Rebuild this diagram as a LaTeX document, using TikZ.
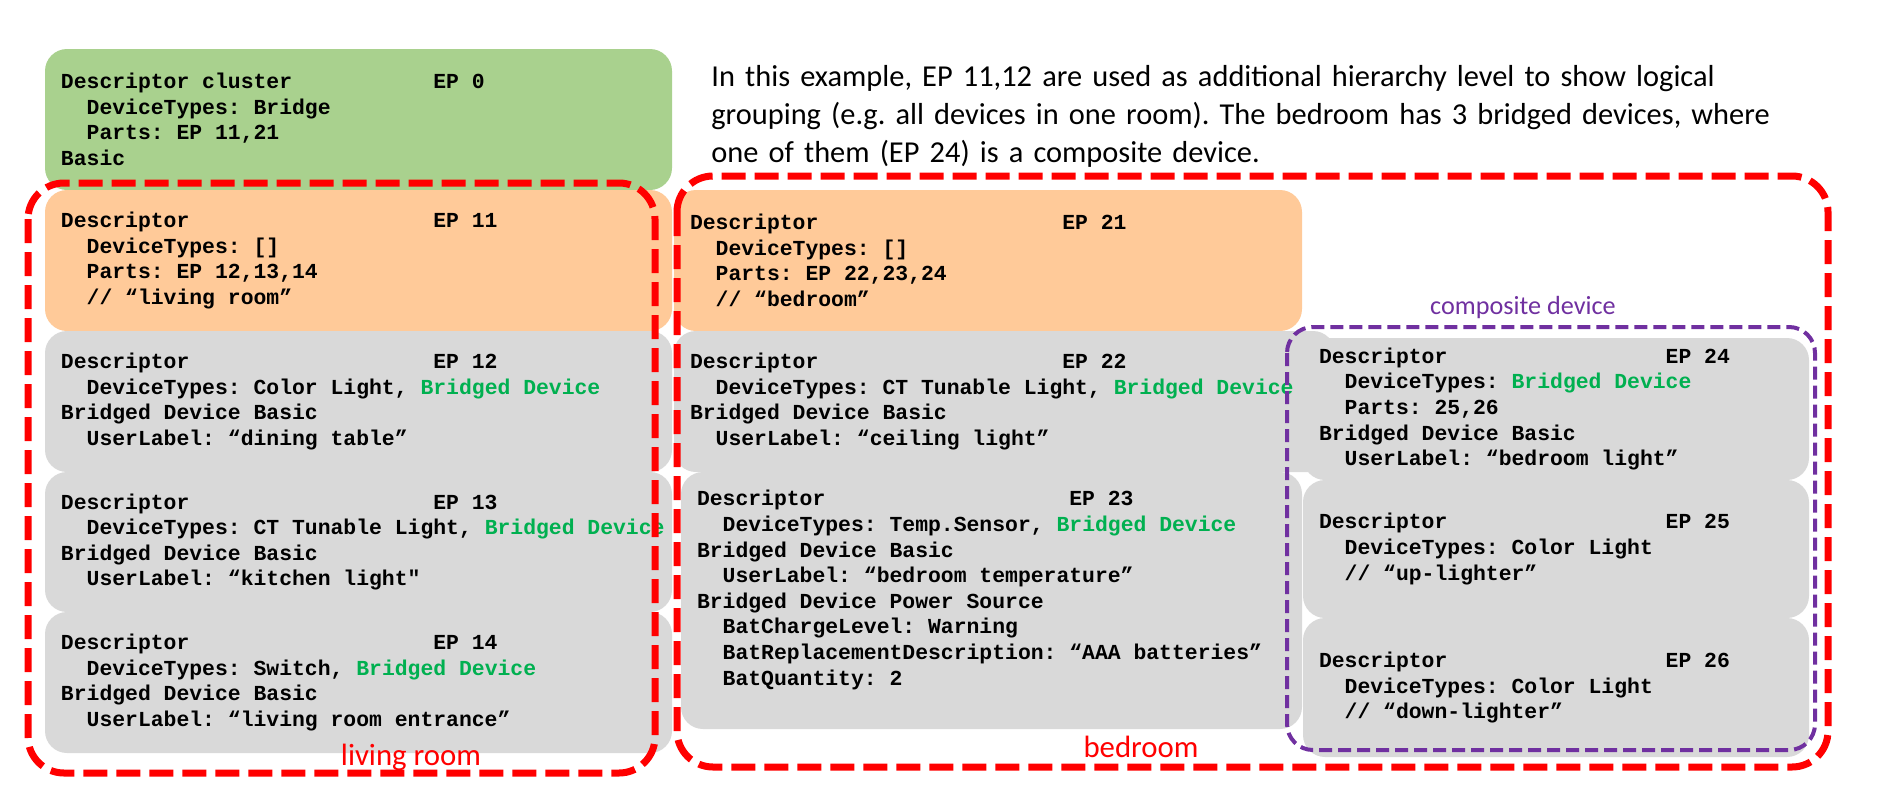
\documentclass[tikz,border=0pt]{standalone}
\usepackage{fontspec}
\setmainfont{Carlito}
\setmonofont{Liberation Mono}
\usepackage{xcolor}
\usepackage{tikz}
\usetikzlibrary{positioning}

\definecolor{epgreen}{HTML}{A9D18E}
\definecolor{eporange}{HTML}{FFCA99}
\definecolor{epgray}{HTML}{D9D9D9}
\definecolor{brgreen}{HTML}{00B050}
\definecolor{roomred}{HTML}{FF0000}
\definecolor{comppurple}{HTML}{7030A0}

\newcommand{\epline}[3][17.4em]{\makebox[#1][l]{#2}#3}
\newcommand{\epind}{\hspace*{1.2em}}
\newcommand{\brdev}{\textcolor{brgreen}{Bridged Device}}

\begin{document}
\begin{tikzpicture}[x=0.5pt,y=-0.5pt,font=\fontsize{15.2pt}{19pt}\selectfont]
    \tikzset{
      epbox/.style={anchor=north west, rounded corners=11pt, align=left, text width=#1,
        inner xsep=8pt, inner ysep=0pt, outer sep=0pt,
        font=\fontsize{10.7pt}{12.8pt}\selectfont\ttfamily\bfseries\frenchspacing,
        execute at begin node={\spaceskip=0.6em\relax}},
      room/.style={draw=roomred, line width=3.5pt, dash pattern=on 12pt off 4.5pt, rounded corners=18pt},
      composite/.style={draw=comppurple, line width=2pt, dash pattern=on 6.5pt off 3pt, rounded corners=13pt},
      roomlabel/.style={anchor=base, inner sep=0pt, text=roomred, font=\fontsize{15.4pt}{18pt}\selectfont}
    }
    \useasboundingbox (0,0) rectangle (1890,794);

    \node[epbox=297.5pt, fill=epgreen, minimum height=70.5pt] (ep0) at (45,49)
      {\epline{Descriptor cluster}{EP 0}\\ \epind DeviceTypes: Bridge\\ \epind Parts: EP 11,21\\ Basic};
    \node[epbox=297.5pt, fill=eporange, minimum height=70.5pt, below=0pt of ep0] (ep11)
      {\epline{Descriptor}{EP 11}\\ \epind DeviceTypes: []\\ \epind Parts: EP 12,13,14\\ \epind // “living room”};
    \node[epbox=297.5pt, fill=epgray, minimum height=70.5pt, below=0pt of ep11] (ep12)
      {\epline{Descriptor}{EP 12}\\ \epind DeviceTypes: Color Light, \brdev\\ Bridged Device Basic\\
       \epind UserLabel: “dining table”};
    \node[epbox=297.5pt, fill=epgray, minimum height=70pt, below=0pt of ep12] (ep13)
      {\epline{Descriptor}{EP 13}\\ \mbox{\epind DeviceTypes: CT Tunable Light, \brdev}\\ Bridged Device Basic\\
       \epind UserLabel: “kitchen light"};
    \node[epbox=297.5pt, fill=epgray, minimum height=70.5pt, below=0pt of ep13] (ep14)
      {\epline{Descriptor}{EP 14}\\ \epind DeviceTypes: Switch, \brdev\\ Bridged Device Basic\\
       \epind UserLabel: “living room entrance”};

    \node[epbox=298pt, fill=eporange, minimum height=70.5pt] (ep21) at (674,190)
      {\epline{Descriptor}{EP 21}\\ \epind DeviceTypes: []\\ \epind Parts: EP 22,23,24\\ \epind // “bedroom”};
    \node[epbox=314.5pt, fill=epgray, minimum height=70.5pt, below right=0pt and 0pt of ep21.south west] (ep22)
      {\epline{Descriptor}{EP 22}\\ \mbox{\epind DeviceTypes: CT Tunable Light, \brdev}\\ Bridged Device Basic\\
       \epind UserLabel: “ceiling light”};
    \node[epbox=294.5pt, fill=epgray, minimum height=128.5pt, below right=0pt and 3.5pt of ep22.south west] (ep23)
      {\epline{Descriptor}{EP 23}\\ \epind DeviceTypes: Temp.Sensor, \brdev\\ Bridged Device Basic\\
       \epind UserLabel: “bedroom temperature”\\ Bridged Device Power Source\\
       \epind BatChargeLevel: Warning\\ \mbox{\epind BatReplacementDescription: “AAA batteries”}\\
       \epind BatQuantity: 2\\ \mbox{}};

    \node[epbox=237pt, fill=epgray, minimum height=71pt] (ep24) at (1303,338)
      {\epline[16.2em]{Descriptor}{EP 24}\\ \epind DeviceTypes: \brdev\\ \epind Parts: 25,26\\
       Bridged Device Basic\\ \epind UserLabel: “bedroom light”};
    \node[epbox=237pt, fill=epgray, minimum height=69pt, below=0pt of ep24] (ep25)
      {\epline[16.2em]{Descriptor}{EP 25}\\ \epind DeviceTypes: Color Light\\ \epind // “up-lighter”};
    \node[epbox=237pt, fill=epgray, minimum height=69.5pt, below=0pt of ep25] (ep26)
      {\epline[16.2em]{Descriptor}{EP 26}\\ \epind DeviceTypes: Color Light\\ \epind // “down-lighter”};

    \draw[room] (28,183) rectangle (655,773);
    \draw[room] (677,176) rectangle (1828,767);
    \draw[composite] (1287,327) rectangle (1815,750);

    \node[roomlabel] (livinglbl) at (411,765) {living room};
    \node[roomlabel] (bedroomlbl) at (1141,757) {bedroom};
    \node[anchor=base, inner sep=0pt, text=comppurple, font=\fontsize{13.1pt}{16pt}\selectfont] (complbl)
      at (1523,314) {composite device};
    \node[anchor=base west, align=left, text width=560pt, inner sep=0pt,
      font=\fontsize{15.2pt}{19pt}\selectfont\frenchspacing] (note) at (711,86)
      {In this example, EP 11,12 are used as additional hierarchy level to show logical\\
       grouping (e.g. all devices in one room). The bedroom has 3 bridged devices, where\\
       one of them (EP 24) is a composite device.};
\end{tikzpicture}
\end{document}
